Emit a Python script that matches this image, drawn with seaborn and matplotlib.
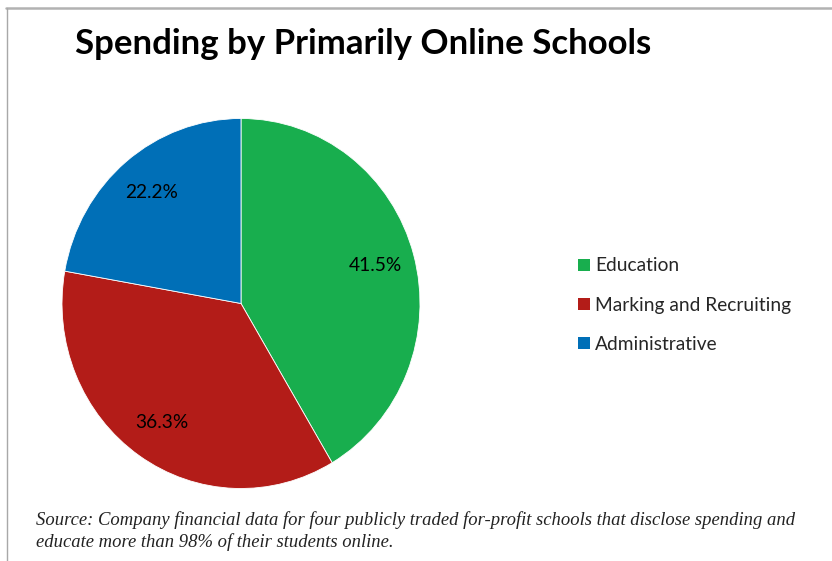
import matplotlib
matplotlib.use("Agg")
import matplotlib.pyplot as plt
from matplotlib.lines import Line2D
from matplotlib.patches import Patch
import seaborn as sns

# Spending shares (percent of total)
categories = ["Education", "Marking and Recruiting", "Administrative"]
shares = [41.5, 36.3, 22.2]
colors = ["#18AE4E", "#B31C18", "#006FB7"]

title = "Spending by Primarily Online Schools"
source = ("Source: Company financial data for four publicly traded for-profit schools that disclose spending and\n"
          "educate more than 98% of their students online.")

sns.set_theme(style="white")
plt.rcParams["font.family"] = ["Lato", "DejaVu Sans"]

W, H = 832, 561
fig = plt.figure(figsize=(W / 100, H / 100), dpi=100)
fig.patch.set_facecolor("white")

def fx(px):
    return px / W

def fy(py):
    return 1 - py / H

# frame lines along the top and left edges
fig.add_artist(Line2D([fx(6), 1], [fy(7.5), fy(7.5)], color="#b2b2b2", lw=1.8))
fig.add_artist(Line2D([fx(7.5), fx(7.5)], [0, fy(7.5)], color="#a8a8a8", lw=1.0))

# pie axes
cx, cy, rx, ry = 241, 303.5, 179, 185
ax = fig.add_axes([fx(cx - rx), fy(cy + ry), (2 * rx) / W, (2 * ry) / H])
wedges, _texts, autotexts = ax.pie(
    shares, colors=colors, startangle=90, counterclock=False,
    autopct=lambda p: f"{p:.1f}%", pctdistance=0.78,
    wedgeprops=dict(linewidth=0.6, edgecolor="white"),
    textprops=dict(fontsize=13.8, color="black"),
)
ax.set_aspect("auto")
ax.set_xlim(-1, 1)
ax.set_ylim(-1, 1)
ax.axis("off")

fig.text(fx(75), fy(44), title, fontsize=25, fontweight="bold", va="center", ha="left", color="black")

handles = [Patch(facecolor=c, edgecolor="none") for c in colors]
leg = fig.legend(handles, categories, loc="center left", bbox_to_anchor=(fx(578), fy(305)),
                 frameon=False, fontsize=13.8, handlelength=0.6, handleheight=0.6,
                 handletextpad=0.3, labelspacing=1.15, borderpad=0, borderaxespad=0)

fig.text(fx(36), fy(531), source, fontsize=13.4, fontstyle="italic", family=["Liberation Serif"],
         va="center", ha="left", color="#222222", linespacing=1.3)

fig.savefig("out.png", dpi=100, facecolor="white")
